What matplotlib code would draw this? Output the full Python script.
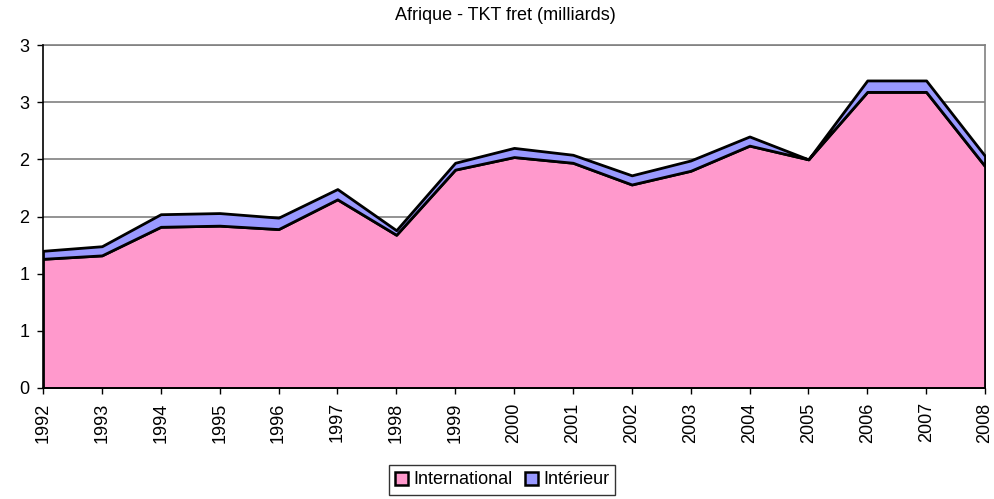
import matplotlib
matplotlib.use("Agg")
import matplotlib.pyplot as plt
from matplotlib.patches import Patch

plt.rcParams['font.family'] = ['Liberation Sans', 'DejaVu Sans']

years = list(range(1992, 2009))
international = [1.13, 1.16, 1.41, 1.42, 1.39, 1.65, 1.34, 1.91, 2.02, 1.97, 1.78,
                 1.90, 2.12, 2.00, 2.59, 2.59, 1.94]
interieur = [0.07, 0.08, 0.11, 0.11, 0.10, 0.09, 0.04, 0.06, 0.08, 0.07, 0.08,
             0.09, 0.08, 0.00, 0.10, 0.10, 0.09]
y_ticks = [0, 0.5, 1, 1.5, 2, 2.5, 3]
y_labels = ["0", "1", "1", "2", "2", "3", "3"]
series_names = ["International", "Intérieur"]
colors = ["#FF99CC", "#9999FF"]

fig = plt.figure(figsize=(9.94, 4.99), dpi=100)
ax = fig.add_axes([43/994, 1-388/499, (985-43)/994, (388-45)/499])

ax.stackplot(years, international, interieur, colors=colors,
             edgecolor="black", linewidth=2, zorder=3)

ax.set_xlim(1992, 2008)
ax.set_ylim(0, 3)
ax.set_yticks(y_ticks)
ax.set_yticklabels(y_labels, fontsize=13)
ax.set_xticks(years)
ax.set_xticklabels([str(y) for y in years], rotation=90, fontsize=13)
ax.yaxis.grid(True, color="#808080", linewidth=1.2, zorder=0)
ax.set_axisbelow(True)
ax.tick_params(axis="both", direction="out", length=4.3, width=1, color="#000000")
ax.tick_params(axis="x", pad=6)
ax.tick_params(axis="y", pad=5.5)
for s in ["top", "right"]:
    ax.spines[s].set_color("#808080")
    ax.spines[s].set_linewidth(1.2)
for s in ["left", "bottom"]:
    ax.spines[s].set_color("black")
    ax.spines[s].set_linewidth(1.2)
    ax.spines[s].set_zorder(5)

fig.text(505/994, 1-16/499, "Afrique - TKT fret (milliards)", ha="center", va="center", fontsize=13)

handles = [Patch(facecolor=c, edgecolor="black", linewidth=1.8) for c in colors]
leg = fig.legend(handles, series_names, loc="center", bbox_to_anchor=(502/994, 1-480/499),
                 ncol=2, fontsize=13, frameon=True, fancybox=False, edgecolor="black",
                 handlelength=0.75, handleheight=0.75, handletextpad=0.25, columnspacing=0.7,
                 borderpad=0.35, borderaxespad=0)
leg.get_frame().set_linewidth(1)

fig.savefig("out.png", dpi=100)
